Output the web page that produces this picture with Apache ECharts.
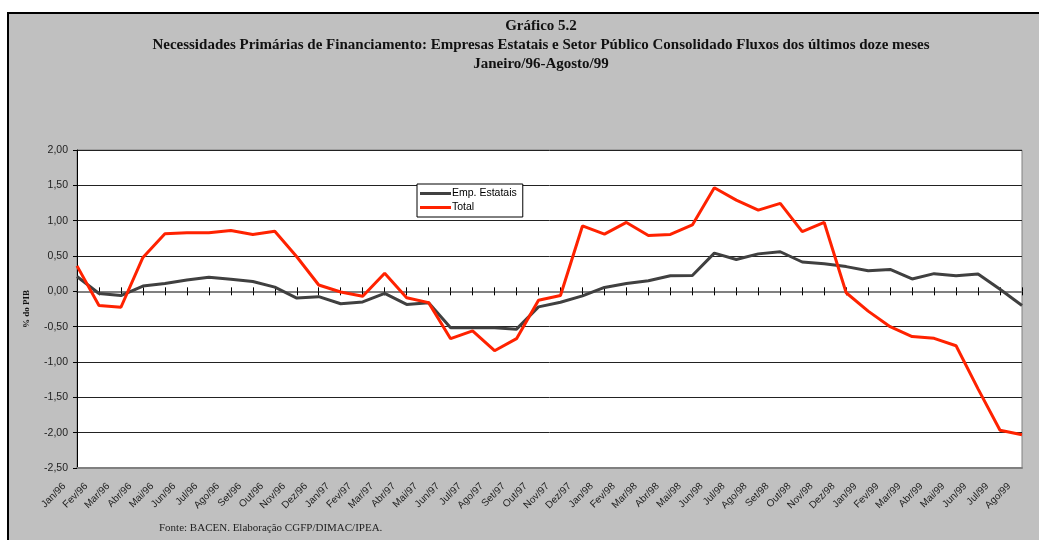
<!DOCTYPE html>
<html>
<head>
<meta charset="utf-8">
<script src="https://cdn.jsdelivr.net/npm/echarts@6/dist/echarts.min.js"></script>
<style>
  html, body { margin: 0; padding: 0; background: #fff; }
  #main { width: 1039px; height: 540px; }
</style>
</head>
<body>
<div id="main"></div>
<script>
// meses Jan/96 - Ago/99
var meses = ['Jan', 'Fev', 'Mar', 'Abr', 'Mai', 'Jun', 'Jul', 'Ago', 'Set', 'Out', 'Nov', 'Dez'];
var categorias = [];
['96', '97', '98', '99'].forEach(function (a) {
  meses.forEach(function (m) { categorias.push(m + '/' + a); });
});
categorias = categorias.slice(0, 44);

// % do PIB, fluxos dos ultimos doze meses
var empEstatais = [0.21, -0.03, -0.06, 0.075, 0.11, 0.16, 0.20, 0.17, 0.14, 0.06,
  -0.095, -0.075, -0.175, -0.15, -0.03, -0.185, -0.16, -0.515, -0.515, -0.515,
  -0.535, -0.22, -0.155, -0.065, 0.055, 0.11, 0.15, 0.22, 0.225, 0.54,
  0.45, 0.53, 0.56, 0.415, 0.39, 0.35, 0.29, 0.31, 0.175, 0.25,
  0.22, 0.245, 0.03, -0.2];
var total = [0.36, -0.20, -0.225, 0.48, 0.815, 0.83, 0.83, 0.86, 0.805, 0.85,
  0.49, 0.09, -0.01, -0.07, 0.255, -0.09, -0.16, -0.67, -0.56, -0.84,
  -0.67, -0.125, -0.06, 0.925, 0.81, 0.975, 0.79, 0.805, 0.94, 1.465,
  1.29, 1.15, 1.245, 0.845, 0.975, -0.02, -0.28, -0.50, -0.64, -0.665,
  -0.77, -1.38, -1.965, -2.03];

var yMin = -2.5, yMax = 2, yStep = 0.5;

var chart = echarts.init(document.getElementById('main'));

var sans = 'Liberation Sans, Arial, sans-serif';
var serif = 'Liberation Serif, Times New Roman, serif';

var option = {
  animation: false,
  title: {
    text: 'Gráfico 5.2\nNecessidades Primárias de Financiamento: Empresas Estatais e Setor Público Consolidado Fluxos dos últimos doze meses\nJaneiro/96-Agosto/99',
    left: 536,
    top: 12,
    textAlign: 'center',
    textStyle: {
      fontFamily: serif,
      fontWeight: 'bold',
      fontSize: 15,
      lineHeight: 19,
      color: '#111'
    }
  },
  graphic: [
    {
      type: 'rect',
      z: -10,
      silent: true,
      shape: { x: 8, y: 13, width: 1100, height: 600 },
      style: { fill: '#c0c0c0', stroke: '#000', lineWidth: 2 }
    },
    {
      type: 'text',
      left: 159,
      top: 523,
      style: {
        text: 'Fonte: BACEN. Elaboração CGFP/DIMAC/IPEA.',
        font: '11px ' + serif,
        fill: '#222'
      }
    }
  ],
  legend: {
    left: 417,
    top: 184,
    orient: 'vertical',
    data: ['Emp. Estatais', 'Total'],
    icon: 'rect',
    backgroundColor: '#fff',
    borderColor: '#000',
    borderWidth: 1,
    borderRadius: 0,
    padding: [4, 6, 4, 3],
    itemGap: 3,
    itemWidth: 31,
    itemHeight: 3,
    textStyle: { fontFamily: sans, fontSize: 10.5, color: '#000', padding: [0, 0, 0, -4] }
  },
  grid: {
    left: 77,
    right: 17,
    top: 150,
    bottom: 72,
    show: true,
    backgroundColor: '#fff',
    borderColor: '#808080',
    borderWidth: 1
  },
  xAxis: [
    {
      type: 'category',
      data: categorias,
      boundaryGap: false,
      position: 'bottom',
      axisLine: { onZero: false, lineStyle: { color: '#808080', width: 2 } },
      axisTick: { show: false },
      axisLabel: {
        interval: 0,
        rotate: 45,
        margin: 4,
        padding: [0, 18, 0, 0],
        fontFamily: sans,
        fontSize: 10,
        color: '#222'
      },
      splitLine: { show: false }
    },
    {
      type: 'category',
      data: categorias,
      boundaryGap: false,
      position: 'bottom',
      axisLine: { onZero: true, onZeroAxisIndex: 0, lineStyle: { color: '#808080', width: 2 } },
      axisTick: { show: true, inside: true, length: 4, interval: 0, lineStyle: { color: '#000' } },
      axisLabel: { show: false },
      splitLine: { show: false }
    },
    {
      type: 'category',
      data: categorias,
      boundaryGap: false,
      position: 'top',
      axisLine: { show: false, onZero: true, onZeroAxisIndex: 0 },
      axisTick: { show: true, inside: true, length: 4, interval: 0, lineStyle: { color: '#000' } },
      axisLabel: { show: false },
      splitLine: { show: false }
    }
  ],
  yAxis: {
    type: 'value',
    min: yMin,
    max: yMax,
    interval: yStep,
    name: '% do PIB',
    nameLocation: 'middle',
    nameRotate: 90,
    nameGap: 46,
    nameTextStyle: { fontFamily: serif, fontWeight: 'bold', fontSize: 9, color: '#111' },
    axisLine: { show: true, lineStyle: { color: '#000', width: 1 } },
    axisTick: { show: true, length: 4, lineStyle: { color: '#000' } },
    axisLabel: {
      margin: 9,
      fontFamily: sans,
      fontSize: 10.5,
      color: '#222',
      formatter: function (v) { return v.toFixed(2).replace('.', ','); }
    },
    splitLine: { show: true, lineStyle: { color: '#222', width: 1 } }
  },
  series: [
    {
      name: 'Emp. Estatais',
      type: 'line',
      data: empEstatais,
      symbol: 'none',
      itemStyle: { color: '#404040' },
      lineStyle: { color: '#404040', width: 3 }
    },
    {
      name: 'Total',
      type: 'line',
      data: total,
      symbol: 'none',
      itemStyle: { color: '#ff2200' },
      lineStyle: { color: '#ff2200', width: 3 }
    }
  ]
};

chart.setOption(option);
</script>
</body>
</html>
